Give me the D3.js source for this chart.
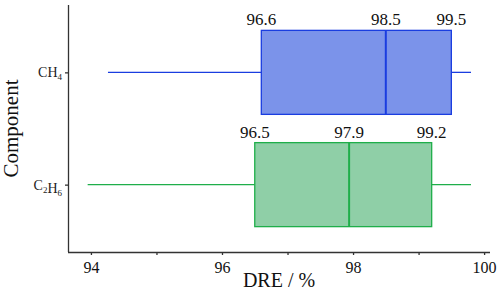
<!DOCTYPE html>
<html>
  <head>
    <style>
      body,
      html {
        margin: 0;
        background: #fff;
      }
      #svg,
      #svg text {
        font-family: 'Liberation Serif', 'Times New Roman', Times, serif !important;
      }
    </style>
  </head>
  <body>
    <svg id="svg" width="500" height="293"></svg>
    <script src="https://cdn.jsdelivr.net/npm/d3@7"></script>
    <script>
      // data
      const components = ['CH4', 'C2H6'];
      const mins = [94.26, 93.95];
      const q1s = [96.6, 96.5];
      const medians = [98.5, 97.94];
      const q3s = [99.5, 99.2];
      const maxs = [99.8, 99.8];
      const xTicks = [94, 95, 96, 97, 98, 99, 100];
      const fills = ['#7b93ea', '#8fcfa7'];
      const strokes = ['#1a3de0', '#1fae4a'];

      const serif = "'Liberation Serif', 'Times New Roman', serif";
      const plotLeft = 68;
      const plotRight = 490;
      const plotTop = 5;
      const plotBottom = 252;

      const rows = components.map((c, i) => ({
        name: c,
        min: mins[i],
        q1: q1s[i],
        med: medians[i],
        q3: q3s[i],
        max: maxs[i],
        fill: fills[i],
        stroke: strokes[i],
      }));

      const xScale = d3
        .scaleLinear()
        .domain([93.65, 100.09])
        .range([plotLeft, plotRight]);
      const yScale = d3
        .scalePoint()
        .domain(components)
        .range([plotTop, plotBottom])
        .padding(0.6);
      const boxH = 84;

      const svg = d3.select('#svg').style('font-family', serif);

      // boxes
      const g = svg.append('g');
      rows.forEach((d) => {
        const cy = yScale(d.name);
        g.append('line')
          .attr('x1', xScale(d.min))
          .attr('x2', xScale(d.q1))
          .attr('y1', cy)
          .attr('y2', cy)
          .attr('stroke', d.stroke)
          .attr('stroke-width', 1.3);
        g.append('line')
          .attr('x1', xScale(d.q3))
          .attr('x2', xScale(d.max))
          .attr('y1', cy)
          .attr('y2', cy)
          .attr('stroke', d.stroke)
          .attr('stroke-width', 1.3);
        g.append('rect')
          .attr('x', xScale(d.q1))
          .attr('y', cy - boxH / 2)
          .attr('width', xScale(d.q3) - xScale(d.q1))
          .attr('height', boxH)
          .attr('fill', d.fill)
          .attr('stroke', d.stroke)
          .attr('stroke-width', 1.3);
        g.append('line')
          .attr('x1', xScale(d.med))
          .attr('x2', xScale(d.med))
          .attr('y1', cy - boxH / 2)
          .attr('y2', cy + boxH / 2)
          .attr('stroke', d.stroke)
          .attr('stroke-width', 2);
        [d.q1, d.med, d.q3].forEach((v) => {
          g.append('text')
            .attr('x', xScale(v))
            .attr('y', cy - boxH / 2 - 5)
            .attr('text-anchor', 'middle')
            .attr('fill', '#111')
            .style('font-family', serif)
            .style('font-size', '17px')
            .text(v.toFixed(1));
        });
      });

      // x axis
      const xAxis = svg
        .append('g')
        .attr('transform', `translate(0,${plotBottom})`)
        .call(
          d3
            .axisBottom(xScale)
            .tickValues(xTicks)
            .tickSize(3)
            .tickSizeOuter(0)
            .tickFormat((d) => (d % 2 === 0 ? d : ''))
        )
        .attr('font-family', null);
      xAxis.select('.domain').attr('d', `M${plotLeft},0.5H${plotRight}`);
      xAxis.selectAll('line, path').attr('stroke', '#333').attr('stroke-width', 1.3);
      xAxis
        .selectAll('text')
        .style('font-family', serif)
        .style('font-size', '16px')
        .attr('fill', '#111')
        .attr('dy', '0.95em');

      // y axis
      const yAxis = svg
        .append('g')
        .attr('transform', `translate(${plotLeft},0)`)
        .call(d3.axisLeft(yScale).tickSize(3).tickSizeOuter(0).tickFormat(''));
      yAxis.select('.domain').attr('d', `M0.5,${plotTop}V${plotBottom}`);
      yAxis.selectAll('line, path').attr('stroke', '#333').attr('stroke-width', 1.3);

      // category labels with subscripts
      const subs = {
        CH4: [['C', ''], ['H', '4']],
        C2H6: [['C', '2'], ['H', '6']],
      };
      components.forEach((c) => {
        const t = svg
          .append('text')
          .attr('x', plotLeft - 6)
          .attr('y', yScale(c) + 5)
          .attr('text-anchor', 'end')
          .attr('fill', '#222')
          .style('font-family', serif)
          .style('font-size', '14px');
        subs[c].forEach(([a, s]) => {
          t.append('tspan').text(a);
          if (s) {
            t.append('tspan').style('font-size', '9px').attr('dy', 3).text(s);
            t.append('tspan').attr('dy', -3).text('');
          }
        });
      });

      // titles
      svg
        .append('text')
        .attr('x', (plotLeft + plotRight) / 2)
        .attr('y', 287)
        .attr('text-anchor', 'middle')
        .attr('fill', '#111')
        .style('font-family', serif)
        .style('font-size', '20px')
        .text('DRE / %');
      svg
        .append('text')
        .attr('transform', `translate(18,${(plotTop + plotBottom) / 2}) rotate(-90)`)
        .attr('text-anchor', 'middle')
        .attr('fill', '#111')
        .style('font-family', serif)
        .style('font-size', '21px')
        .text('Component');
    </script>
  </body>
</html>
